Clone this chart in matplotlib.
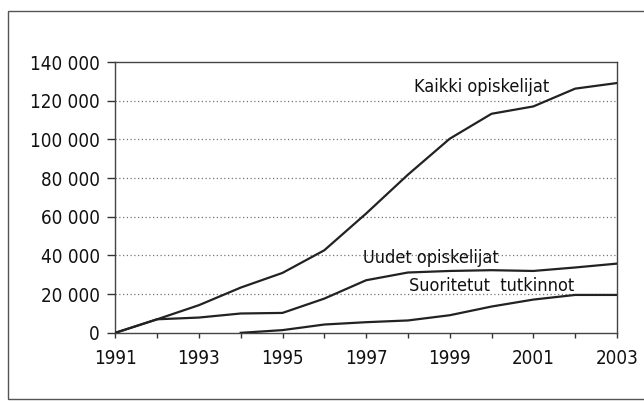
import matplotlib.pyplot as plt
from matplotlib.patches import Rectangle
from matplotlib.ticker import FuncFormatter

years = list(range(1991, 2004))
kaikki = [0, 7000, 14300, 23400, 31000, 42700, 61700, 81800, 100400, 113300, 117100, 126300, 129200]
uudet = [0, 7000, 7900, 10000, 10300, 17700, 27200, 31200, 32000, 32400, 32000, 33800, 35800]
tutk_years = list(range(1994, 2004))
tutkinnot = [0, 1400, 4300, 5500, 6400, 9100, 13600, 17200, 19600, 19600]

plt.rcParams['font.family'] = ['DejaVu Sans']
plt.rcParams['font.stretch'] = 'condensed'

fig = plt.figure(figsize=(6.44, 4.01), dpi=100)
ax = fig.add_axes([0.179, 0.170, 0.779, 0.675])

# ulkokehys
fig.patches.append(Rectangle((0.013, 0.006), 1.2, 0.966, transform=fig.transFigure,
                             fill=False, edgecolor='#555555', linewidth=1.0))

for yv in range(20000, 140000, 20000):
    ax.axhline(yv, color='#777777', linestyle=(0, (1, 2)), linewidth=0.9, zorder=1)

lc = '#222222'
ax.plot(years, kaikki, color=lc, linewidth=1.6, zorder=3)
ax.plot(years, uudet, color=lc, linewidth=1.6, zorder=3)
ax.plot(tutk_years, tutkinnot, color=lc, linewidth=1.6, zorder=3)

fs = 13
ax.text(1999.77, 127300, 'Kaikki opiskelijat', ha='center', va='center', fontsize=fs, color='#111111')
ax.text(1998.55, 38800, 'Uudet opiskelijat', ha='center', va='center', fontsize=fs, color='#111111')
ax.text(2000.0, 24300, 'Suoritetut  tutkinnot', ha='center', va='center', fontsize=fs, color='#111111')

ax.set_xlim(1991, 2003)
ax.set_ylim(0, 140000)
ax.set_xticks(years)
ax.set_xticklabels([str(y) if (y - 1991) % 2 == 0 else '' for y in years])
ax.set_yticks(range(0, 140001, 20000))
ax.yaxis.set_major_formatter(FuncFormatter(lambda v, p: f"{int(v):,}".replace(',', ' ')))
ax.tick_params(axis='both', labelsize=13.5, direction='out', width=1, colors='#333333',
               labelcolor='#111111')
ax.tick_params(axis='y', length=6, pad=5)
ax.tick_params(axis='x', length=3.5, pad=8)
for s in ax.spines.values():
    s.set_color('#444444')
    s.set_linewidth(1.0)

fig.savefig('out.png', dpi=100)
